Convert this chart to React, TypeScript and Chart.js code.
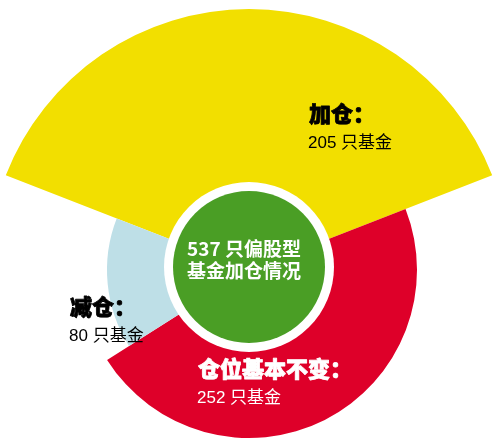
import React, { useEffect, useRef } from 'react';
import { Chart, registerables } from 'chart.js';

Chart.register(...registerables);

// ---- data ----
const categories: string[] = ['加仓', '仓位基本不变', '减仓'];
const fundCounts: number[] = [205, 252, 80];
const fanLevels: number[] = [261, 168, 142];
const unitLabel = '只基金';
const titleSuffix = ['只偏股型', '基金加仓情况'];

const sliceColors = ['#F2DF00', '#DE0029', '#BEDFE7'];
const totalFunds = fundCounts.reduce((a, b) => a + b, 0);

const FONT = '"Noto Sans CJK SC", "Noto Sans", sans-serif';
const NUM_FONT = '"Liberation Sans", "Noto Sans CJK SC", sans-serif';

const labelPlugin = {
  id: 'fanLabels',
  afterDatasetsDraw(chart: any) {
    const ctx = chart.ctx as CanvasRenderingContext2D;
    const r = chart.scales.r;
    const cx = r.xCenter;
    const cy = r.yCenter;
    ctx.save();
    // center disc
    ctx.beginPath();
    ctx.arc(cx, cy - 3, 85, 0, Math.PI * 2);
    ctx.fillStyle = '#FFFFFF';
    ctx.fill();
    ctx.beginPath();
    ctx.arc(cx, cy - 3, 76, 0, Math.PI * 2);
    ctx.fillStyle = '#4A9E25';
    ctx.fill();

    ctx.fillStyle = '#FFFFFF';
    ctx.textAlign = 'center';
    ctx.textBaseline = 'middle';
    ctx.font = `bold 19px ${FONT}`;
    ctx.fillText(`${totalFunds} ${titleSuffix[0]}`, cx - 5, cy - 21);
    ctx.fillText(titleSuffix[1], cx - 5, cy + 1);

    const pos = [
      { x: cx + 60, y: cy - 156, color: '#000000' },
      { x: cx - 51, y: cy + 99, color: '#FFFFFF' },
      { x: cx - 179, y: cy + 37, color: '#000000' },
    ];
    ctx.textAlign = 'left';
    categories.forEach((name, i) => {
      const p = pos[i];
      ctx.fillStyle = p.color;
      ctx.strokeStyle = p.color;
      ctx.lineWidth = 0.8;
      ctx.lineJoin = 'round';
      ctx.font = `900 22px ${FONT}`;
      ctx.fillText(`${name}：`, p.x, p.y);
      ctx.strokeText(`${name}：`, p.x, p.y);
      ctx.font = `17px ${NUM_FONT}`;
      ctx.fillText(`${fundCounts[i]} ${unitLabel}`, p.x - 1, p.y + 29);
    });
    ctx.restore();
  },
};

export default function App() {
  const canvasRef = useRef<HTMLCanvasElement | null>(null);

  useEffect(() => {
    if (!canvasRef.current) return;
    const chart = new Chart(canvasRef.current, {
      type: 'polarArea',
      data: {
        labels: categories,
        datasets: [
          {
            data: fanLevels,
            backgroundColor: sliceColors,
            borderWidth: 0,
            angle: (c: any) => (fundCounts[c.dataIndex] / totalFunds) * 360,
            clip: false,
          } as any,
        ],
      },
      options: {
        responsive: false,
        animation: false,
        layout: { padding: { top: 93, right: 2, bottom: 0, left: 0 } },
        plugins: {
          legend: { display: false },
          tooltip: { enabled: false },
        },
        scales: {
          r: {
            display: false,
            min: 0,
            max: 177,
            startAngle: -((fundCounts[0] / totalFunds) * 360) / 2,
          },
        },
      } as any,
      plugins: [labelPlugin],
    });
    return () => chart.destroy();
  }, []);

  return (
    <div style={{ position: 'absolute', left: 0, top: 0, width: 500, height: 447, background: '#FFFFFF' }}>
      <canvas ref={canvasRef} width={500} height={447} />
    </div>
  );
}
